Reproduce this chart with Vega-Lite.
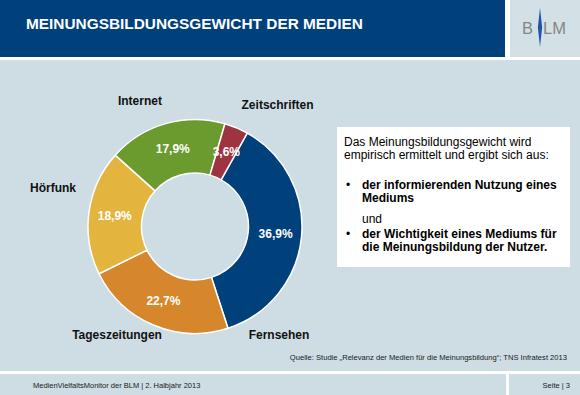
{
  "$schema": "https://vega.github.io/schema/vega-lite/v6.json",
  "padding": 0,
  "background": "white",
  "spacing": 0,
  "config": {
    "view": {"stroke": null, "fill": "#cddde3"},
    "font": "Liberation Sans",
    "locale": {"number": {"decimal": ",", "thousands": ".", "grouping": [3], "currency": ["", " €"]}}
  },
  "datasets": {
    "media": [
      {"medium": "Fernsehen", "share": 0.369},
      {"medium": "Tageszeitungen", "share": 0.227},
      {"medium": "Hörfunk", "share": 0.189},
      {"medium": "Internet", "share": 0.179},
      {"medium": "Zeitschriften", "share": 0.036}
    ],
    "blank": [{"k": 0}]
  },
  "vconcat": [
    {
      "spacing": 5,
      "hconcat": [
        {
          "width": 505, "height": 57,
          "view": {"fill": "#00407b", "stroke": null},
          "data": {"values": [{"t": "MEINUNGSBILDUNGSGEWICHT DER MEDIEN"}]},
          "mark": {"type": "text", "x": 26, "y": 24, "align": "left", "baseline": "middle", "fontSize": 15.4, "fontWeight": "bold", "fill": "white"},
          "encoding": {"text": {"field": "t", "type": "nominal"}}
        },
        {
          "width": 70, "height": 57,
          "view": {"fill": "#d3e0e5", "stroke": null},
          "data": {"values": [{"a": "B", "b": "LM"}]},
          "layer": [
            {"mark": {"type": "text", "x": 23, "y": 29, "align": "right", "baseline": "middle", "fontSize": 16.5, "fill": "#858585"}, "encoding": {"text": {"field": "a", "type": "nominal"}}},
            {"mark": {"type": "text", "x": 33, "y": 29, "align": "left", "baseline": "middle", "fontSize": 16.5, "fill": "#858585"}, "encoding": {"text": {"field": "b", "type": "nominal"}}},
            {"mark": {"type": "point", "x": 30, "y": 27.5, "shape": "M0,-1L0.11,0L0,1L-0.11,0Z", "size": 1521, "filled": true, "fill": "#1d55a8", "strokeWidth": 0, "opacity": 1}, "encoding": {}}
          ]
        }
      ]
    },
    {
      "width": 580, "height": 3,
      "view": {"fill": "white", "stroke": null},
      "data": {"name": "blank"},
      "mark": {"type": "point", "size": 0, "opacity": 0},
      "encoding": {}
    },
    {
      "spacing": 0,
      "hconcat": [
        {
          "width": 337, "height": 285,
          "view": {"fill": "#cddde3", "stroke": null},
          "data": {"name": "media"},
          "layer": [
            {
              "mark": {"type": "arc", "x": 195, "y": 166.5, "innerRadius": 53.5, "outerRadius": 107, "stroke": "white", "strokeWidth": 1.5},
              "encoding": {
                "theta": {"field": "share", "type": "quantitative", "stack": true, "scale": {"domain": [0, 1], "range": [0.51, 6.7932]}},
                "order": {"field": "share", "sort": "descending"},
                "color": {
                  "field": "medium", "type": "nominal", "legend": null,
                  "scale": {
                    "domain": ["Fernsehen", "Tageszeitungen", "Hörfunk", "Internet", "Zeitschriften"],
                    "range": ["#00407b", "#d6872b", "#e3b53f", "#6b9a2f", "#9e3441"]
                  }
                }
              }
            },
            {
              "mark": {"type": "text", "x": 195, "y": 166.5, "radius": 81, "fill": "white", "fontSize": 12, "fontWeight": "bold", "align": "center", "baseline": "middle"},
              "encoding": {
                "theta": {"field": "share", "type": "quantitative", "stack": true},
                "order": {"field": "share", "sort": "descending"},
                "detail": {"field": "medium", "type": "nominal"},
                "text": {"field": "share", "type": "quantitative", "format": ".1%"}
              }
            },
            {
              "transform": [
                {"stack": "share", "groupby": [], "sort": [{"field": "share", "order": "descending"}], "as": ["s0", "s1"]},
                {"filter": "datum.medium === 'Fernsehen'"}
              ],
              "mark": {"type": "text", "x": 195, "y": 166.5, "radius": 128, "dx": 21.5, "dy": 220, "fontSize": 12, "fontWeight": "bold", "fill": "#111111", "align": "center", "baseline": "middle"},
              "encoding": {"theta": {"field": "s0", "type": "quantitative"}, "text": {"field": "medium", "type": "nominal"}}
            },
            {
              "transform": [
                {"stack": "share", "groupby": [], "sort": [{"field": "share", "order": "descending"}], "as": ["s0", "s1"]},
                {"filter": "datum.medium === 'Tageszeitungen'"}
              ],
              "mark": {"type": "text", "x": 195, "y": 166.5, "radius": 128, "dx": -117.4, "dy": -13.3, "fontSize": 12, "fontWeight": "bold", "fill": "#111111", "align": "center", "baseline": "middle"},
              "encoding": {"theta": {"field": "s0", "type": "quantitative"}, "text": {"field": "medium", "type": "nominal"}}
            },
            {
              "transform": [
                {"stack": "share", "groupby": [], "sort": [{"field": "share", "order": "descending"}], "as": ["s0", "s1"]},
                {"filter": "datum.medium === 'Hörfunk'"}
              ],
              "mark": {"type": "text", "x": 195, "y": 166.5, "radius": 128, "dx": -27.2, "dy": -95, "fontSize": 12, "fontWeight": "bold", "fill": "#111111", "align": "center", "baseline": "middle"},
              "encoding": {"theta": {"field": "s0", "type": "quantitative"}, "text": {"field": "medium", "type": "nominal"}}
            },
            {
              "transform": [
                {"stack": "share", "groupby": [], "sort": [{"field": "share", "order": "descending"}], "as": ["s0", "s1"]},
                {"filter": "datum.medium === 'Internet'"}
              ],
              "mark": {"type": "text", "x": 195, "y": 166.5, "radius": 128, "dx": 40.3, "dy": -40.6, "fontSize": 12, "fontWeight": "bold", "fill": "#111111", "align": "center", "baseline": "middle"},
              "encoding": {"theta": {"field": "s0", "type": "quantitative"}, "text": {"field": "medium", "type": "nominal"}}
            },
            {
              "transform": [
                {"stack": "share", "groupby": [], "sort": [{"field": "share", "order": "descending"}], "as": ["s0", "s1"]},
                {"filter": "datum.medium === 'Zeitschriften'"}
              ],
              "mark": {"type": "text", "x": 195, "y": 166.5, "radius": 128, "dx": 46.7, "dy": 1.4, "fontSize": 12, "fontWeight": "bold", "fill": "#111111", "align": "center", "baseline": "middle"},
              "encoding": {"theta": {"field": "s0", "type": "quantitative"}, "text": {"field": "medium", "type": "nominal"}}
            }
          ]
        },
        {
          "spacing": 0,
          "vconcat": [
            {
              "width": 233, "height": 67,
              "view": {"fill": "#cddde3", "stroke": null},
              "data": {"name": "blank"},
              "mark": {"type": "point", "size": 0, "opacity": 0},
              "encoding": {}
            },
            {
              "width": 233, "height": 140,
              "view": {"fill": "white", "stroke": null},
              "layer": [
                {
                  "data": {"values": [{"t": "Das Meinungsbildungsgewicht wird\nempirisch ermittelt und ergibt sich aus:"}]},
                  "mark": {"type": "text", "x": 7, "y": 19, "align": "left", "baseline": "alphabetic", "lineBreak": "\n", "lineHeight": 12.5, "fontSize": 12, "fill": "#000000"},
                  "encoding": {"text": {"field": "t", "type": "nominal"}}
                },
                {
                  "data": {"values": [{"t": "•"}]},
                  "mark": {"type": "text", "x": 9, "y": 62, "align": "left", "baseline": "alphabetic", "fontSize": 12, "fill": "#000000"},
                  "encoding": {"text": {"field": "t", "type": "nominal"}}
                },
                {
                  "data": {"values": [{"t": "der informierenden Nutzung eines\nMediums"}]},
                  "mark": {"type": "text", "x": 25, "y": 62, "align": "left", "baseline": "alphabetic", "lineBreak": "\n", "lineHeight": 13, "fontSize": 12, "fontWeight": "bold", "fill": "#000000"},
                  "encoding": {"text": {"field": "t", "type": "nominal"}}
                },
                {
                  "data": {"values": [{"t": "und"}]},
                  "mark": {"type": "text", "x": 25, "y": 95.5, "align": "left", "baseline": "alphabetic", "fontSize": 12, "fill": "#000000"},
                  "encoding": {"text": {"field": "t", "type": "nominal"}}
                },
                {
                  "data": {"values": [{"t": "•"}]},
                  "mark": {"type": "text", "x": 9, "y": 110.5, "align": "left", "baseline": "alphabetic", "fontSize": 12, "fill": "#000000"},
                  "encoding": {"text": {"field": "t", "type": "nominal"}}
                },
                {
                  "data": {"values": [{"t": "der Wichtigkeit eines Mediums für\ndie Meinungsbildung der Nutzer."}]},
                  "mark": {"type": "text", "x": 25, "y": 110.5, "align": "left", "baseline": "alphabetic", "lineBreak": "\n", "lineHeight": 13, "fontSize": 12, "fontWeight": "bold", "fill": "#000000"},
                  "encoding": {"text": {"field": "t", "type": "nominal"}}
                }
              ]
            },
            {
              "width": 233, "height": 78,
              "view": {"fill": "#cddde3", "stroke": null},
              "data": {"name": "blank"},
              "mark": {"type": "point", "size": 0, "opacity": 0},
              "encoding": {}
            }
          ]
        },
        {
          "width": 10, "height": 285,
          "view": {"fill": "#cddde3", "stroke": null},
          "data": {"name": "blank"},
          "mark": {"type": "point", "size": 0, "opacity": 0},
          "encoding": {}
        }
      ]
    },
    {
      "width": 580, "height": 26,
      "view": {"fill": "#cddde3", "stroke": null},
      "data": {"values": [{"t": "Quelle: Studie „Relevanz der Medien für die Meinungsbildung“; TNS Infratest 2013"}]},
      "mark": {"type": "text", "x": 567, "y": 13, "align": "right", "baseline": "middle", "fontSize": 7.6, "fill": "#1a1a1a"},
      "encoding": {"text": {"field": "t", "type": "nominal"}}
    },
    {
      "width": 580, "height": 3,
      "view": {"fill": "white", "stroke": null},
      "data": {"name": "blank"},
      "mark": {"type": "point", "size": 0, "opacity": 0},
      "encoding": {}
    },
    {
      "spacing": 3,
      "hconcat": [
        {
          "width": 506, "height": 21,
          "view": {"fill": "#cddde3", "stroke": null},
          "data": {"values": [{"t": "MedienVielfaltsMonitor der BLM | 2. Halbjahr 2013"}]},
          "mark": {"type": "text", "x": 33, "y": 12, "align": "left", "baseline": "middle", "fontSize": 7.5, "fill": "#1a1a1a"},
          "encoding": {"text": {"field": "t", "type": "nominal"}}
        },
        {
          "width": 71, "height": 21,
          "view": {"fill": "#cddde3", "stroke": null},
          "data": {"values": [{"t": "Seite | 3"}]},
          "mark": {"type": "text", "x": 61, "y": 12, "align": "right", "baseline": "middle", "fontSize": 7.5, "fill": "#1a1a1a"},
          "encoding": {"text": {"field": "t", "type": "nominal"}}
        }
      ]
    }
  ]
}
